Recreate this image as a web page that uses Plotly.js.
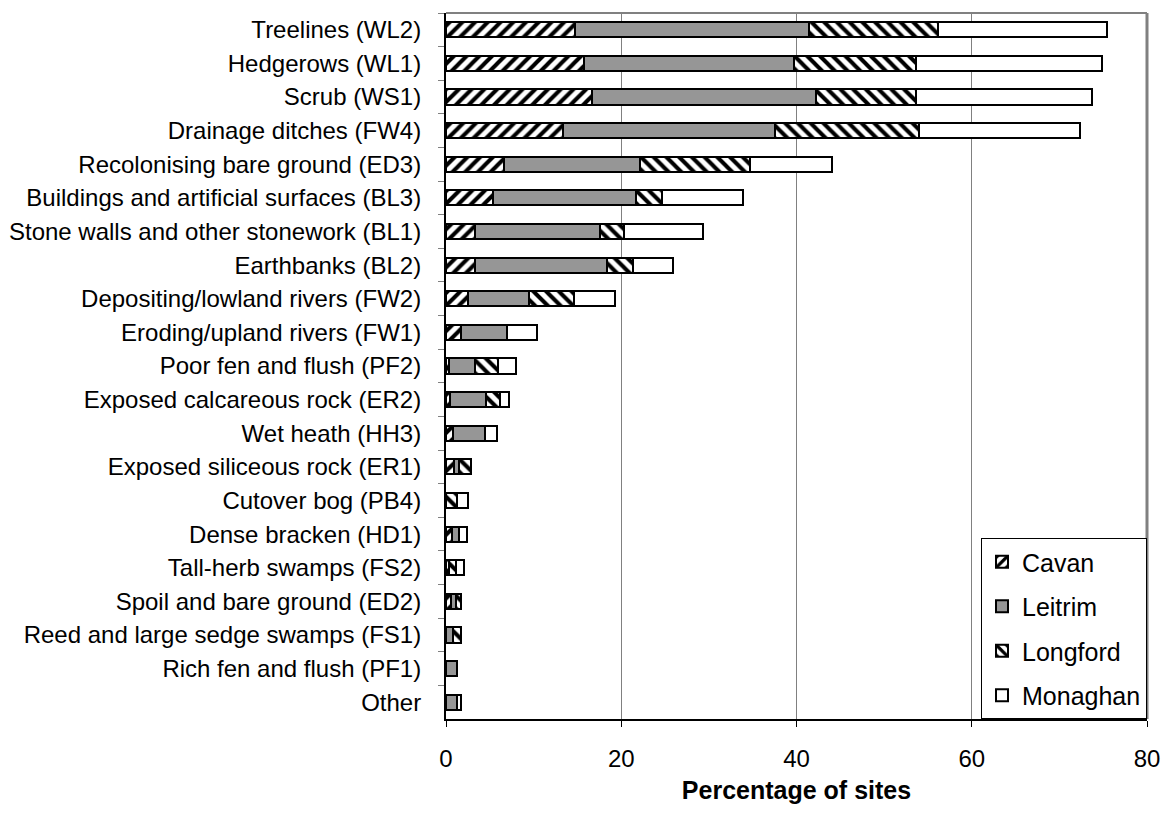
<!DOCTYPE html>
<html>
<head>
<meta charset="utf-8">
<script src="https://cdn.plot.ly/plotly-3.0.1.min.js"></script>
<style>html,body{margin:0;padding:0;background:#fff;}#chart{width:1164px;height:814px;}</style>
</head>
<body>
<div id="chart"></div>
<script>
const categories = [
  "Treelines (WL2)", "Hedgerows (WL1)", "Scrub (WS1)", "Drainage ditches (FW4)",
  "Recolonising bare ground (ED3)", "Buildings and artificial surfaces (BL3)",
  "Stone walls and other stonework (BL1)", "Earthbanks (BL2)",
  "Depositing/lowland rivers (FW2)", "Eroding/upland rivers (FW1)",
  "Poor fen and flush (PF2)", "Exposed calcareous rock (ER2)", "Wet heath (HH3)",
  "Exposed siliceous rock (ER1)", "Cutover bog (PB4)", "Dense bracken (HD1)",
  "Tall-herb swamps (FS2)", "Spoil and bare ground (ED2)",
  "Reed and large sedge swamps (FS1)", "Rich fen and flush (PF1)", "Other"
];
const cavan    = [14.7, 15.8, 16.7, 13.3, 6.6, 5.4, 3.3, 3.3, 2.5, 1.7, 0.3, 0.4, 0.75, 0.9, 0, 0.7, 0.3, 0.6, 0, 0, 0];
const leitrim  = [26.7, 23.9, 25.5, 24.3, 15.5, 16.3, 14.3, 15.1, 7.0, 5.3, 3.0, 4.15, 3.7, 0.6, 0, 0.75, 0, 0.5, 0.75, 1.2, 1.2];
const longford = [14.7, 13.9, 11.4, 16.4, 12.6, 2.9, 2.7, 2.9, 5.1, 0, 2.6, 1.65, 0, 1.4, 1.2, 0, 0.8, 0.6, 0.95, 0, 0];
const monaghan = [19.3, 21.3, 20.1, 18.4, 9.3, 9.3, 9.0, 4.6, 4.7, 3.4, 2.1, 0.95, 1.4, 0, 1.3, 1.0, 0.95, 0, 0, 0, 0.5];
const seriesNames = ["Cavan", "Leitrim", "Longford", "Monaghan"];
const xTicks = [0, 20, 40, 60, 80];

const FONT = "Liberation Sans, Arial, sans-serif";
const styles = [
  {color: "#ffffff", pattern: {shape: "/", fgcolor: "#000000", bgcolor: "#ffffff", size: 9, solidity: 0.45, fillmode: "replace"}},
  {color: "#969696"},
  {color: "#ffffff", pattern: {shape: "\\", fgcolor: "#000000", bgcolor: "#ffffff", size: 9, solidity: 0.45, fillmode: "replace"}},
  {color: "#ffffff"}
];
const values = [cavan, leitrim, longford, monaghan];

const traces = seriesNames.map((name, i) => {
  const m = Object.assign({line: {color: "#000000", width: 2}}, styles[i]);
  return {
    type: "bar", orientation: "h", name: name, legendgroup: name,
    x: values[i], y: categories, marker: m, hoverinfo: "x+y+name"
  };
});

const layout = {
  width: 1164, height: 814,
  margin: {l: 446, r: 17, t: 13, b: 95},
  paper_bgcolor: "#ffffff", plot_bgcolor: "#ffffff",
  barmode: "stack", bargap: 0.55,
  font: {family: FONT, size: 24, color: "#000000"},
  xaxis: {
    range: [0, 80], tickvals: xTicks, ticktext: xTicks.map(String),
    showgrid: true, gridcolor: "#808080", gridwidth: 1,
    showline: true, linecolor: "#000000", linewidth: 2,
    ticks: "outside", ticklen: 6, tickcolor: "#000000", tickwidth: 1,
    tickfont: {family: FONT, size: 24}, zeroline: false, ticklabelstandoff: 11,
    title: {text: "<b>Percentage of sites</b>", font: {family: FONT, size: 25}, standoff: 11}
  },
  yaxis: {
    type: "category", categoryorder: "array", categoryarray: categories,
    autorange: "reversed",
    showline: true, linecolor: "#000000", linewidth: 2,
    ticks: "outside", ticklen: 6, tickcolor: "#808080", tickson: "boundaries",
    tickfont: {family: FONT, size: 24}, showgrid: false, zeroline: false,
    ticklabelstandoff: 18
  },
  legend: {
    x: 1, xanchor: "right", y: 0, yanchor: "bottom",
    bgcolor: "#ffffff", bordercolor: "#000000", borderwidth: 1,
    font: {family: FONT, size: 25}, traceorder: "grouped",
    tracegroupgap: 9, itemwidth: 30
  },
  shapes: [
    {type: "line", xref: "paper", yref: "paper", x0: 0, x1: 1, y0: 1, y1: 1, line: {color: "#808080", width: 2}, layer: "below"},
    {type: "line", xref: "paper", yref: "paper", x0: 1, x1: 1, y0: 0, y1: 1, line: {color: "#808080", width: 3}, layer: "below"}
  ],
  showlegend: true
};

Plotly.newPlot("chart", traces, layout, {displayModeBar: false, staticPlot: true});
</script>
</body>
</html>
